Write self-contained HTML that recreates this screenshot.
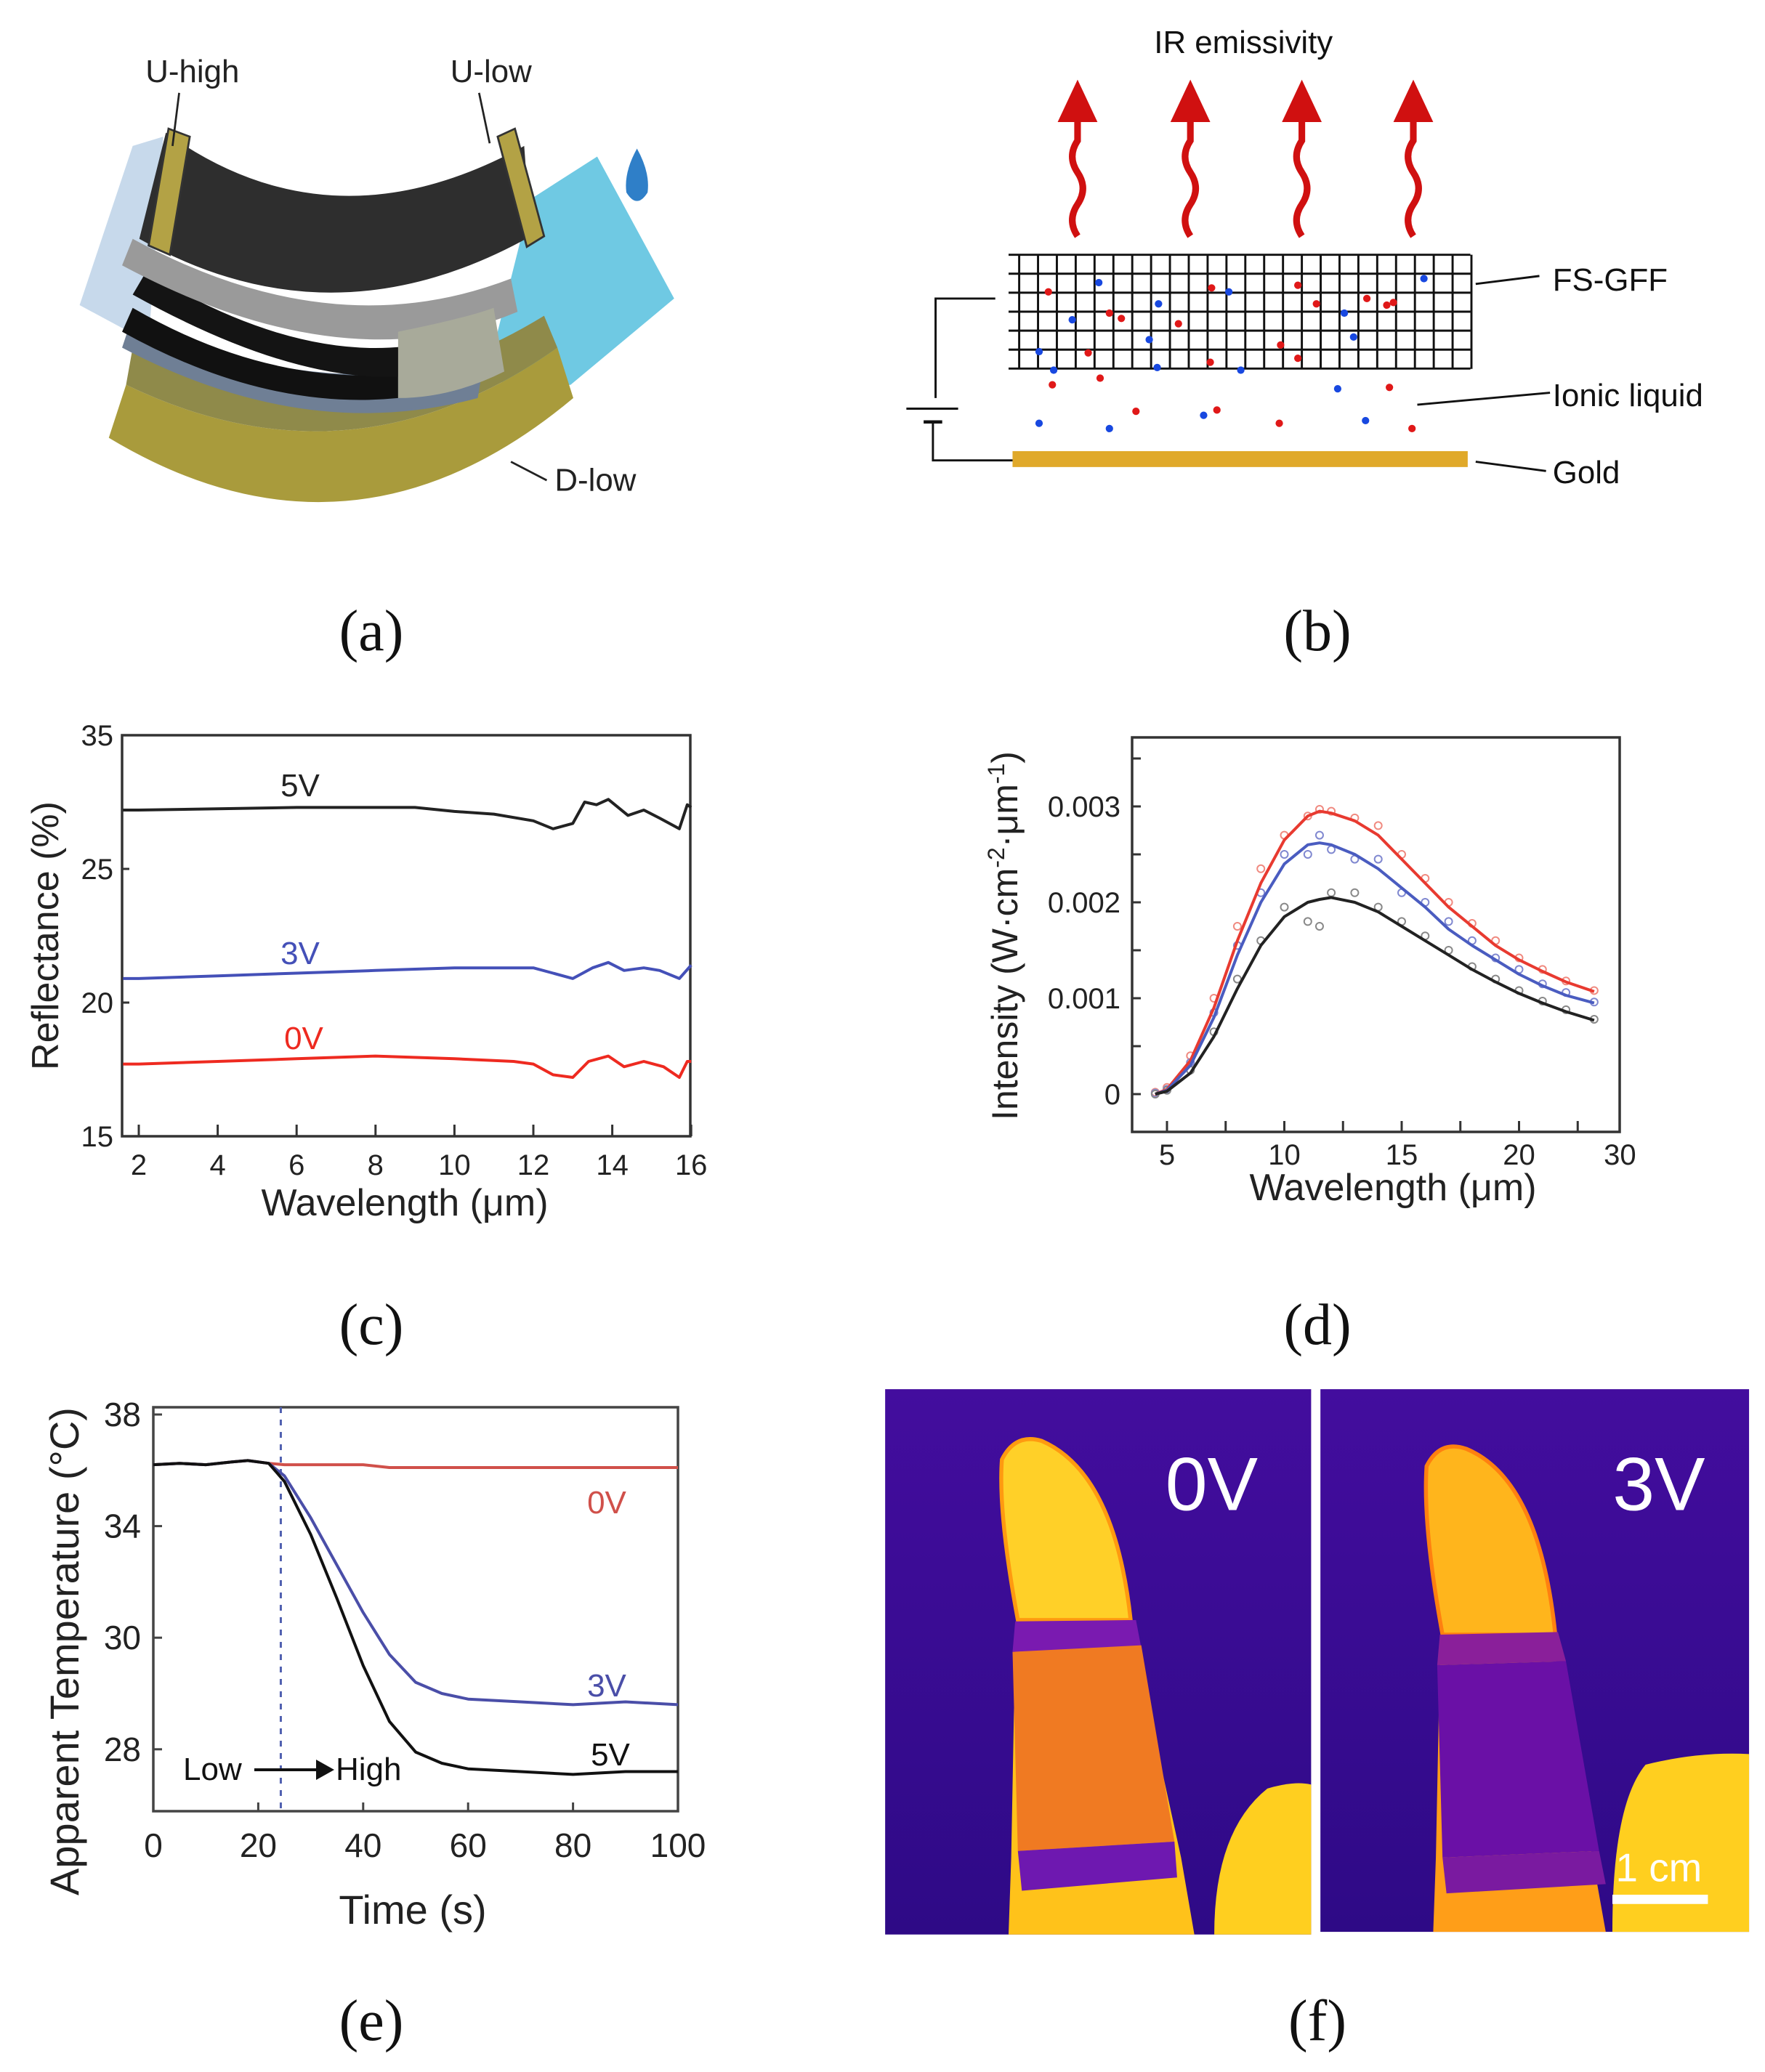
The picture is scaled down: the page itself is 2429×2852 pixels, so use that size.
<!DOCTYPE html>
<html><head><meta charset="utf-8"><style>
html,body{margin:0;padding:0;background:#fff;}
svg{display:block;font-family:"Liberation Sans",sans-serif;}
</style></head><body>
<svg id="fig" width="2429" height="2852" viewBox="0 0 2429 2852" xmlns="http://www.w3.org/2000/svg">
<rect width="2429" height="2852" fill="#fff"/>

<!-- Panel a (display coords) -->
<g transform="scale(1.8263)">
  <polygon points="60,230 100,110 123,103 112,258" fill="#b9cfe6" opacity="0.8"/>
  <polygon points="372,262 400,150 450,118 508,225 430,290 380,297" fill="#5fc3e0" opacity="0.9"/>
  <path d="M82,330 Q265,440 432,300 L420,262 Q265,372 95,290 Z" fill="#a99b3c"/>
  <path d="M95,290 Q265,372 420,262 L410,238 Q260,330 100,262 Z" fill="#8f8a4a"/>
  <path d="M92,262 Q230,335 360,300 L365,270 Q230,305 100,238 Z" fill="#6f7f95"/>
  <path d="M92,250 Q200,310 300,300 L300,282 Q200,290 100,232 Z" fill="#111"/>
  <path d="M100,222 Q240,300 330,280 L325,258 Q230,278 110,205 Z" fill="#141414"/>
  <path d="M92,200 Q260,290 390,235 L385,210 Q250,262 100,180 Z" fill="#9a9a9a"/>
  <path d="M300,250 Q350,240 372,232 L380,280 Q340,300 300,300 Z" fill="#a8aa9a"/>
  <path d="M105,180 Q250,262 400,178 L395,110 Q250,190 125,100 Z" fill="#2e2e2e"/>
  <polygon points="112,185 127,97 143,103 128,192" fill="#b3a245" stroke="#333" stroke-width="1.5"/>
  <polygon points="375,103 388,97 410,178 397,186" fill="#b3a245" stroke="#333" stroke-width="1.5"/>
  <path d="M480,112 Q470,130 472,145 Q480,158 488,145 Q490,130 480,112 Z" fill="#2f7fc8"/>
  <line x1="135" y1="70" x2="130" y2="110" stroke="#222" stroke-width="1.5"/>
  <line x1="361" y1="70" x2="369" y2="108" stroke="#222" stroke-width="1.5"/>
  <line x1="385" y1="348" x2="412" y2="362" stroke="#222" stroke-width="1.5"/>
  <text x="145" y="62" font-size="24" text-anchor="middle" fill="#222">U-high</text>
  <text x="370" y="62" font-size="24" text-anchor="middle" fill="#222">U-low</text>
  <text x="418" y="370" font-size="24" fill="#222">D-low</text>
</g>

<!-- Panel b (display coords) -->
<g transform="scale(1.8263)">
  <text x="937" y="40" font-size="24" text-anchor="middle" fill="#111">IR emissivity</text>
  <g id="arrows" fill="none" stroke="#d01010" stroke-width="5"></g>
  <g id="grid" stroke="#111" stroke-width="1.6"></g>
  <g id="dots"></g>
  <rect x="763" y="340" width="343" height="12" fill="#e0a92a"/>
  <polyline points="750,225 705,225 705,300" fill="none" stroke="#111" stroke-width="1.6"/>
  <line x1="683" y1="308" x2="722" y2="308" stroke="#111" stroke-width="1.6"/>
  <line x1="696" y1="318" x2="710" y2="318" stroke="#111" stroke-width="2.5"/>
  <polyline points="703,318 703,347 763,347" fill="none" stroke="#111" stroke-width="1.6"/>
  <line x1="1112" y1="214" x2="1160" y2="208" stroke="#111" stroke-width="1.6"/>
  <line x1="1068" y1="305" x2="1168" y2="296" stroke="#111" stroke-width="1.6"/>
  <line x1="1112" y1="348" x2="1165" y2="355" stroke="#111" stroke-width="1.6"/>
  <text x="1170" y="219" font-size="24" fill="#111">FS-GFF</text>
  <text x="1170" y="306" font-size="24" fill="#111">Ionic liquid</text>
  <text x="1170" y="364" font-size="24" fill="#111">Gold</text>
</g>

<!-- Captions -->
<g font-family="Liberation Serif, serif" font-size="80" fill="#111" text-anchor="middle">
  <text x="511" y="895">(a)</text>
  <text x="1813" y="895">(b)</text>
  <text x="511" y="1850">(c)</text>
  <text x="1813" y="1850">(d)</text>
  <text x="511" y="2808">(e)</text>
  <text x="1813" y="2808">(f)</text>
</g>

<g id="chartC"></g>
<g id="chartD"></g>
<g id="chartE"></g>

<!-- Panel f (display coords) -->
<g transform="scale(1.8263)">
  <defs>
    <linearGradient id="bgL" x1="0" y1="0" x2="0" y2="1"><stop offset="0" stop-color="#430d9e"/><stop offset="1" stop-color="#2e0a86"/></linearGradient>
  </defs>
  <g>
    <rect x="667" y="1047" width="321" height="411" fill="url(#bgL)"/>
    <path d="M760,1458 L762,1400 L765,1240 L855,1240 L890,1400 L900,1458 Z" fill="#ffc21a"/>
    <path d="M767,1221 Q752,1140 755,1100 Q765,1080 785,1086 Q840,1110 852,1221 Z" fill="#ffd028" stroke="#ff9a10" stroke-width="3"/>
    <path d="M765,1222 L856,1221 L860,1242 L763,1245 Z" fill="#7a1ab0"/>
    <path d="M763,1245 L860,1240 L885,1388 L767,1395 Z" fill="#f07a22"/>
    <path d="M767,1395 L885,1388 L887,1415 L770,1425 Z" fill="#6e18b0"/>
    <path d="M915,1458 Q915,1380 955,1348 Q975,1342 988,1345 L988,1458 Z" fill="#ffcf1f"/>
    <text x="913" y="1138" font-size="57" fill="#fff" text-anchor="middle">0V</text>
  </g>
  <g>
    <rect x="995" y="1047" width="323" height="409" fill="url(#bgL)"/>
    <path d="M1080,1456 L1082,1400 L1085,1250 L1172,1250 L1200,1400 L1210,1456 Z" fill="#ff9e18"/>
    <path d="M1087,1232 Q1072,1150 1075,1105 Q1085,1085 1105,1092 Q1160,1115 1172,1232 Z" fill="#ffb51c" stroke="#ff8010" stroke-width="3"/>
    <path d="M1085,1232 L1174,1230 L1180,1252 L1083,1255 Z" fill="#8a1f9a"/>
    <path d="M1083,1255 L1180,1252 L1205,1395 L1087,1400 Z" fill="#6a10a6"/>
    <path d="M1087,1400 L1205,1395 L1210,1420 L1090,1427 Z" fill="#7a1aa0"/>
    <path d="M1215,1456 Q1215,1360 1240,1330 Q1280,1320 1318,1322 L1318,1456 Z" fill="#ffcf1f"/>
    <text x="1250" y="1138" font-size="57" fill="#fff" text-anchor="middle">3V</text>
    <text x="1250" y="1418" font-size="30" fill="#fff" text-anchor="middle">1 cm</text>
    <rect x="1215" y="1428" width="72" height="7" fill="#fff"/>
  </g>
</g>
</svg>

<script>
// ---------- Panel c data ----------
const cTickX = [2,4,6,8,10,12,14,16];
const cTickYVals = [30,25,20,15];
const cTickYLabels = ['35','25','20','15'];
const cX5 = [1.6,2,4,6,8,9,10,11,12,12.5,13,13.3,13.6,13.9,14.4,14.8,15.2,15.7,15.9,16];
const cY5 = [27.2,27.2,27.25,27.3,27.3,27.3,27.15,27.05,26.8,26.5,26.7,27.5,27.4,27.6,27.0,27.2,26.9,26.5,27.4,27.3];
const cX3 = [1.6,2,4,6,8,10,12,12.5,13,13.5,13.9,14.3,14.8,15.2,15.7,16];
const cY3 = [20.9,20.9,21.0,21.1,21.2,21.3,21.3,21.1,20.9,21.3,21.5,21.2,21.3,21.2,20.9,21.4];
const cX0 = [1.6,2,4,6,8,10,11.5,12,12.5,13,13.4,13.9,14.3,14.8,15.3,15.7,15.9,16];
const cY0 = [17.7,17.7,17.8,17.9,18.0,17.9,17.8,17.7,17.3,17.2,17.8,18.0,17.6,17.8,17.6,17.2,17.8,17.8];

// ---------- Panel d data (intensity in 1e-3 W cm^-2 um^-1) ----------
const dTickXVals = [5,10,15,20,24.3];
const dTickXLabels = ['5','10','15','20','30'];
const dTickYVals = [0,1,2,3];
const dTickYLabels = ['0','0.001','0.002','0.003'];
const dX = [4.5,5,6,7,8,9,10,11,11.5,12,13,14,15,16,17,18,19,20,21,22,23.2];
const dRed = [0,0.05,0.35,0.9,1.6,2.2,2.65,2.9,2.95,2.93,2.85,2.7,2.45,2.2,1.95,1.75,1.55,1.4,1.28,1.17,1.07];
const dBlue = [0,0.04,0.3,0.8,1.45,2.0,2.4,2.6,2.62,2.6,2.5,2.35,2.15,1.95,1.72,1.55,1.4,1.25,1.13,1.03,0.95];
const dBlack = [0,0.03,0.22,0.6,1.1,1.55,1.85,2.0,2.03,2.05,2.0,1.9,1.75,1.6,1.45,1.3,1.17,1.05,0.95,0.86,0.77];
const dRedPts = [0.02,0.07,0.4,1.0,1.75,2.35,2.7,2.9,2.97,2.95,2.88,2.8,2.5,2.25,2.0,1.78,1.6,1.42,1.3,1.18,1.08];
const dBluePts = [0.01,0.05,0.33,0.85,1.55,2.1,2.5,2.5,2.7,2.55,2.45,2.45,2.1,2.0,1.8,1.6,1.42,1.3,1.15,1.06,0.96];
const dBlackPts = [0,0.04,0.25,0.65,1.2,1.6,1.95,1.8,1.75,2.1,2.1,1.95,1.8,1.65,1.5,1.33,1.2,1.08,0.97,0.88,0.78];

// ---------- Panel e data ----------
const eTickXVals = [0,20,40,60,80,100];
const eTickYVals = [38,34,30,26];
const eTickYLabels = ['38','34','30','28'];
const eT = [0,5,10,15,18,22,25,30,35,40,45,50,55,60,70,80,90,100];
const e0V = [36.2,36.25,36.2,36.3,36.35,36.25,36.2,36.2,36.2,36.2,36.1,36.1,36.1,36.1,36.1,36.1,36.1,36.1];
const e3V = [36.2,36.25,36.2,36.3,36.35,36.25,35.8,34.3,32.6,30.9,29.4,28.4,28.0,27.8,27.7,27.6,27.7,27.6];
const e5V = [36.2,36.25,36.2,36.3,36.35,36.25,35.6,33.7,31.4,29.0,27.0,25.9,25.5,25.3,25.2,25.1,25.2,25.2];
const eSwitch = 24.3;

// ---------- Panel b data ----------
const bArrowX = [812,897,981,1065];
const bRedDots = [[790,220],[836,236],[845,240],[888,244],[913,217],[912,273],[965,260],[978,215],[992,229],[1030,225],[1050,228],[1045,230],[820,266],[978,270],[793,290],[829,285],[856,310],[917,309],[964,319],[1047,292],[1064,323]];
const bBlueDots = [[828,213],[808,241],[783,265],[866,256],[873,229],[926,220],[872,277],[935,279],[1013,236],[1020,254],[1073,210],[794,279],[783,319],[836,323],[907,313],[1008,293],[1029,317]];

const NS = 'http://www.w3.org/2000/svg';
function mk(parent, tag, attrs, text){
  const el = document.createElementNS(NS, tag);
  for (const k in attrs) el.setAttribute(k, attrs[k]);
  if (text !== undefined) el.textContent = text;
  parent.appendChild(el);
  return el;
}
function pathFrom(xs, ys, fx, fy){
  return xs.map((x,i)=>(i?'L':'M')+fx(x).toFixed(1)+','+fy(ys[i]).toFixed(1)).join(' ');
}

// ---- Panel b drawing ----
(function(){
  const ag = document.getElementById('arrows');
  bArrowX.forEach((x,i)=>{
    const p = mk(ag,'path',{d:`M${x},178 q-8,-12 0,-24 q8,-12 0,-24 q-8,-12 0,-24 L${x},85`});
    
    
    const h = mk(ag,'polygon',{points:`${x-15},92 ${x},60 ${x+15},92`,fill:'#d01010',stroke:'none'});
    
    
  });
  const gg = document.getElementById('grid');
  for (let i=0;i<7;i++){ const y=192+i*14.3; mk(gg,'line',{x1:760,y1:y,x2:1108,y2:y}); }
  for (let i=0;i<25;i++){ const x=768+i*14.2; mk(gg,'line',{x1:x,y1:192,x2:x,y2:278}); }
  const dg = document.getElementById('dots');
  bRedDots.forEach(p=>{ const c=mk(dg,'circle',{cx:p[0],cy:p[1],r:2.8,fill:'#e01818'});   });
  bBlueDots.forEach(p=>{ const c=mk(dg,'circle',{cx:p[0],cy:p[1],r:2.8,fill:'#1848e0'});   });
})();

// ---- Panel c ----
(function(){
  const g = document.getElementById('chartC');
  const L=168,R=950,T=1012,B=1564;
  const x = v => 191 + (v-2)*54.3;
  const y = v => T + (30-v)*(B-T)/15;
  mk(g,'rect',{x:L,y:T,width:R-L,height:B-T,fill:'none',stroke:'#333','stroke-width':3.5});
  cTickX.forEach(v=>{
    mk(g,'line',{x1:x(v),y1:B,x2:x(v),y2:B-16,stroke:'#333','stroke-width':3});
    const t=mk(g,'text',{x:x(v),y:1617,'font-size':40,'text-anchor':'middle',fill:'#222'},String(v));
     
  });
  cTickYVals.forEach((v,i)=>{
    mk(g,'line',{x1:L,y1:y(v),x2:L+10,y2:y(v),stroke:'#333','stroke-width':3});
    const t=mk(g,'text',{x:156,y:y(v)+14,'font-size':40,'text-anchor':'end',fill:'#222'},cTickYLabels[i]);
     
  });
  const series=[[cX5,cY5,'#222','line-5v'],[cX3,cY3,'#4450b8','line-3v'],[cX0,cY0,'#ee2a20','line-0v']];
  series.forEach(s=>{
    const p=mk(g,'path',{d:pathFrom(s[0],s[1],x,y),fill:'none',stroke:s[2],'stroke-width':4,'stroke-linejoin':'round'});
     
  });
  let t;
  t=mk(g,'text',{x:413,y:1096,'font-size':44,'text-anchor':'middle',fill:'#222'},'5V');  
  t=mk(g,'text',{x:413,y:1327,'font-size':44,'text-anchor':'middle',fill:'#4450b8'},'3V');  
  t=mk(g,'text',{x:418,y:1444,'font-size':44,'text-anchor':'middle',fill:'#ee2a20'},'0V');  
  t=mk(g,'text',{x:557,y:1673,'font-size':52,'text-anchor':'middle',fill:'#222'},'Wavelength (μm)');  
  t=mk(g,'text',{x:0,y:0,'font-size':52,'text-anchor':'middle',fill:'#222',transform:'translate(80,1288) rotate(-90)'},'Reflectance (%)');  
})();

// ---- Panel d ----
(function(){
  const g = document.getElementById('chartD');
  const L=1558,R=2229,T=1015,B=1558;
  const x = v => 1606 + (v-5)*32.3;
  const y = v => 1506 - v*132;
  mk(g,'rect',{x:L,y:T,width:R-L,height:B-T,fill:'none',stroke:'#333','stroke-width':3.5});
  for (let v=5; v<=22.5; v+=2.5) mk(g,'line',{x1:x(v),y1:B,x2:x(v),y2:B-15,stroke:'#333','stroke-width':3});
  for (let v=0; v<=3.5; v+=0.5) mk(g,'line',{x1:L,y1:y(v),x2:L+12,y2:y(v),stroke:'#333','stroke-width':3});
  dTickXVals.forEach((v,i)=>{
    const t=mk(g,'text',{x:x(v),y:1603,'font-size':40,'text-anchor':'middle',fill:'#222'},dTickXLabels[i]);
     
  });
  dTickYVals.forEach((v,i)=>{
    const t=mk(g,'text',{x:1542,y:y(v)+14,'font-size':40,'text-anchor':'end',fill:'#222'},dTickYLabels[i]);
     
  });
  const pts=[[dRedPts,'#f08a80','points-red'],[dBluePts,'#8088d0','points-blue'],[dBlackPts,'#888','points-black']];
  pts.forEach(s=>{
    s[0].forEach((v,i)=>{
      const c=mk(g,'circle',{cx:x(dX[i]),cy:y(v),r:5,fill:'none',stroke:s[1],'stroke-width':2});
       
    });
  });
  const series=[[dRed,'#e83a30','fit-red'],[dBlue,'#4a5cc0','fit-blue'],[dBlack,'#222','fit-black']];
  series.forEach(s=>{
    const p=mk(g,'path',{d:pathFrom(dX,s[0],x,y),fill:'none',stroke:s[1],'stroke-width':4,'stroke-linejoin':'round'});
     
  });
  let t=mk(g,'text',{x:1917,y:1652,'font-size':52,'text-anchor':'middle',fill:'#222'},'Wavelength (μm)');  
  t=mk(g,'text',{x:0,y:0,'font-size':50,'text-anchor':'middle',fill:'#222',transform:'translate(1400,1288) rotate(-90)'});  
  t.innerHTML='Intensity (W·cm<tspan dy="-18" font-size="32">-2</tspan><tspan dy="18">·μm</tspan><tspan dy="-18" font-size="32">-1</tspan><tspan dy="18">)</tspan>';
})();

// ---- Panel e ----
(function(){
  const g = document.getElementById('chartE');
  const L=211,R=933,T=1937,B=2493;
  const x = v => L + v*7.22;
  const y = v => 1947 + (38-v)*38.4;
  mk(g,'rect',{x:L,y:T,width:R-L,height:B-T,fill:'none',stroke:'#444','stroke-width':3.5});
  eTickXVals.forEach(v=>{
    mk(g,'line',{x1:x(v),y1:B,x2:x(v),y2:B-12,stroke:'#444','stroke-width':3});
    const t=mk(g,'text',{x:x(v),y:2556,'font-size':46,'text-anchor':'middle',fill:'#222'},String(v));
     
  });
  eTickYVals.forEach((v,i)=>{
    mk(g,'line',{x1:L,y1:y(v),x2:L+12,y2:y(v),stroke:'#444','stroke-width':3});
    const t=mk(g,'text',{x:194,y:y(v)+16,'font-size':46,'text-anchor':'end',fill:'#222'},eTickYLabels[i]);
     
  });
  const dl=mk(g,'line',{x1:x(eSwitch),y1:T,x2:x(eSwitch),y2:B,stroke:'#5060b0','stroke-width':3,'stroke-dasharray':'8,9'});
   
  const series=[[e0V,'#d0504a','line-0v'],[e3V,'#4a4ea8','line-3v'],[e5V,'#111','line-5v']];
  series.forEach(s=>{
    const p=mk(g,'path',{d:pathFrom(eT,s[0],x,y),fill:'none',stroke:s[1],'stroke-width':4,'stroke-linejoin':'round'});
     
  });
  let t;
  t=mk(g,'text',{x:835,y:2083,'font-size':44,'text-anchor':'middle',fill:'#d0504a'},'0V');  
  t=mk(g,'text',{x:835,y:2335,'font-size':44,'text-anchor':'middle',fill:'#4a4ea8'},'3V');  
  t=mk(g,'text',{x:840,y:2430,'font-size':44,'text-anchor':'middle',fill:'#111'},'5V');  
  t=mk(g,'text',{x:252,y:2450,'font-size':44,fill:'#111'},'Low');  
  mk(g,'line',{x1:350,y1:2436,x2:440,y2:2436,stroke:'#111','stroke-width':4});
  mk(g,'polygon',{points:'435,2422 460,2436 435,2450',fill:'#111'});
  t=mk(g,'text',{x:462,y:2450,'font-size':44,fill:'#111'},'High');  
  t=mk(g,'text',{x:568,y:2648,'font-size':56,'text-anchor':'middle',fill:'#222'},'Time (s)');  
  t=mk(g,'text',{x:0,y:0,'font-size':56,'text-anchor':'middle',fill:'#222',transform:'translate(108,2273) rotate(-90)'},'Apparent Temperature (°C)');  
})();
</script>
</body></html>
